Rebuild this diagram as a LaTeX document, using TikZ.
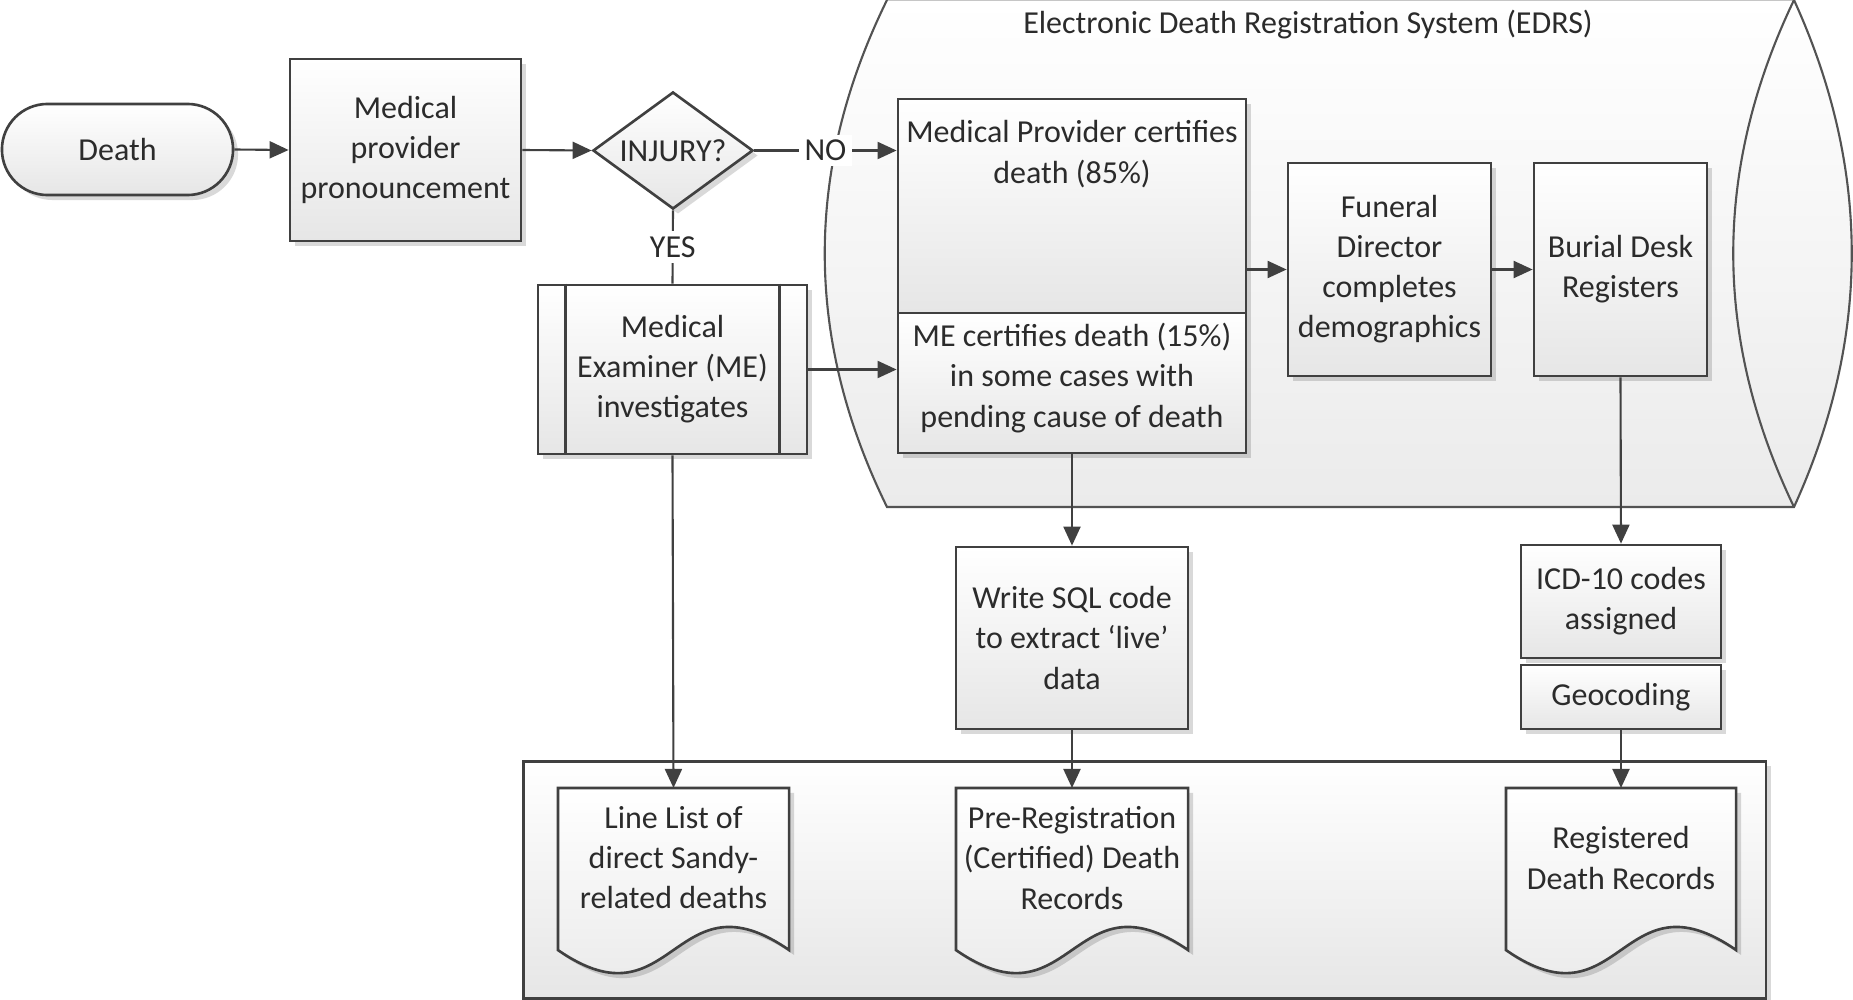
\documentclass[tikz,border=0pt]{standalone}
\usepackage{fontspec}
\setmainfont{Carlito}
\usetikzlibrary{arrows.meta,shapes.geometric,shadows,calc}
\definecolor{linec}{HTML}{404040}
\definecolor{textc}{HTML}{2B2B2B}
\definecolor{boxbot}{HTML}{E6E6E6}
\definecolor{cylbot}{HTML}{EBEBEB}
\newcommand\fs{\fontsize{9.1}{11.4}\selectfont}
\begin{document}
\begin{tikzpicture}[x=0.01cm,y=-0.01cm,
  txt/.style={font=\fs, text=textc, align=center, inner sep=0pt},
  shad/.style={drop shadow={shadow xshift=0.05cm, shadow yshift=-0.05cm, fill=black, opacity=0.15}},
  box/.style={txt, draw=linec, line width=0.75pt, top color=white, bottom color=boxbot, shad},
  docfill/.style={draw=linec, line width=0.75pt, top color=white, bottom color=boxbot, shad},
  arr/.style={draw=linec, line width=0.6pt, -{Triangle[length=0.19cm, width=0.17cm]}},
  conn/.style={draw=linec, line width=0.6pt},
  lab/.style={txt, fill=white, inner sep=1.5pt},
  cyl/.style={draw=linec!90, line width=0.6pt},
  area/.style={inner sep=0pt, outer sep=0pt}]
\useasboundingbox (0,0) rectangle (1853,1000);

% EDRS cylinder
\path[top color=white, bottom color=cylbot]
  (887,0) -- (1794,0) .. controls (1871,169) and (1871,338) .. (1794,507)
  -- (887,507) .. controls (804,338) and (804,169) .. (887,0) -- cycle;
\draw[gray!45, line width=0.5pt] (887,0.4) -- (1794,0.4);
\draw[cyl] (1794,0) .. controls (1871,169) and (1871,338) .. (1794,507)
  -- (887,507) .. controls (804,338) and (804,169) .. (887,0);
\draw[cyl] (1794,0) .. controls (1713,169) and (1713,338) .. (1794,507);
\node[txt] (edrs) at (1308,25) {Electronic Death Registration System (EDRS)};

% bottom container
\node[box, minimum width=12.42cm, minimum height=2.37cm, anchor=north west] (store) at (522,760) {};

% nodes
\node[box, rounded corners=0.455cm, minimum width=2.31cm, minimum height=0.91cm] (death) at (117.5,149.5) {Death};
\node[box, minimum width=2.31cm, minimum height=1.82cm] (mpp) at (405.5,150) {Medical\\provider\\pronouncement};
\node[box, diamond, aspect=1.37, minimum width=1.6cm, minimum height=1.17cm] (inj) at (673,150.5) {INJURY?};
\node[box, minimum width=2.69cm, minimum height=1.69cm] (me) at (672.5,369.5) {Medical\\Examiner (ME)\\investigates};
\draw[linec, line width=0.75pt] ([xshift=0.29cm]me.north west) -- ([xshift=0.29cm]me.south west);
\draw[linec, line width=0.75pt] ([xshift=-0.29cm]me.north east) -- ([xshift=-0.29cm]me.south east);

\node[box, minimum width=3.48cm, minimum height=2.14cm] (mpc) at (1072,206) {};
\node[txt, anchor=north] (mpctext) at (1072,120) {Medical Provider certifies\\death (85\%)};
\node[box, minimum width=3.48cm, minimum height=1.40cm] (mec) at (1072,383) {};
\node[txt] (mectext) at (1072,378) {ME certifies death (15\%)\\in some cases with\\pending cause of death};

\node[box, minimum width=2.03cm, minimum height=2.13cm] (fd) at (1389.5,269.5) {Funeral\\Director\\completes\\demographics};
\node[box, minimum width=1.73cm, minimum height=2.13cm] (bd) at (1620.5,269.5) {Burial Desk\\Registers};

\node[box, minimum width=2.32cm, minimum height=1.82cm] (sql) at (1072,638) {Write SQL code\\to extract ‘live’\\data};
\node[box, minimum width=2.0cm, minimum height=1.13cm] (icd) at (1621,601.5) {ICD-10 codes\\assigned};
\node[box, minimum width=2.0cm, minimum height=0.64cm] (geo) at (1621,697) {Geocoding};

% documents
\node[area, minimum width=2.31cm, minimum height=1.62cm] (ll) at (673.5,869) {};
\path[docfill] (ll.north west) -- (ll.north east) -- (ll.south east)
  .. controls ($(ll.south)+(0,-80)$) and ($(ll.south)+(0,80)$) .. (ll.south west) -- cycle;
\node[txt] (lltext) at (673.5,858) {Line List of\\direct Sandy-\\related deaths};

\node[area, minimum width=2.32cm, minimum height=1.62cm] (pre) at (1072,869) {};
\path[docfill] (pre.north west) -- (pre.north east) -- (pre.south east)
  .. controls ($(pre.south)+(0,-80)$) and ($(pre.south)+(0,80)$) .. (pre.south west) -- cycle;
\node[txt] (pretext) at (1072,858) {Pre-Registration\\(Certified) Death\\Records};

\node[area, minimum width=2.30cm, minimum height=1.62cm] (reg) at (1621,869) {};
\path[docfill] (reg.north west) -- (reg.north east) -- (reg.south east)
  .. controls ($(reg.south)+(0,-80)$) and ($(reg.south)+(0,80)$) .. (reg.south west) -- cycle;
\node[txt] (regtext) at (1621,858) {Registered\\Death Records};

% connectors
\draw[arr] (death.east) -- (mpp.west);
\draw[arr] (mpp.east) -- (inj.west);
\draw[arr] (inj.east) -- node[lab] (nolab) {NO} (inj.east -| mpc.west);
\draw[conn] (inj.south) -- node[lab] (yeslab) {YES} (me.north);
\draw[arr] (me.east) -- (me.east -| mec.west);
\draw[arr] (fd.west -| mpc.east) -- (fd.west);
\draw[arr] (fd.east) -- (bd.west);
\draw[arr] (mec.south) -- (sql.north);
\draw[arr] (sql.south) -- (pre.north);
\draw[arr] (bd.south) -- (icd.north);
\draw[arr] (geo.south) -- (reg.north);
\draw[arr] (me.south) -- (ll.north);
\end{tikzpicture}
\end{document}
